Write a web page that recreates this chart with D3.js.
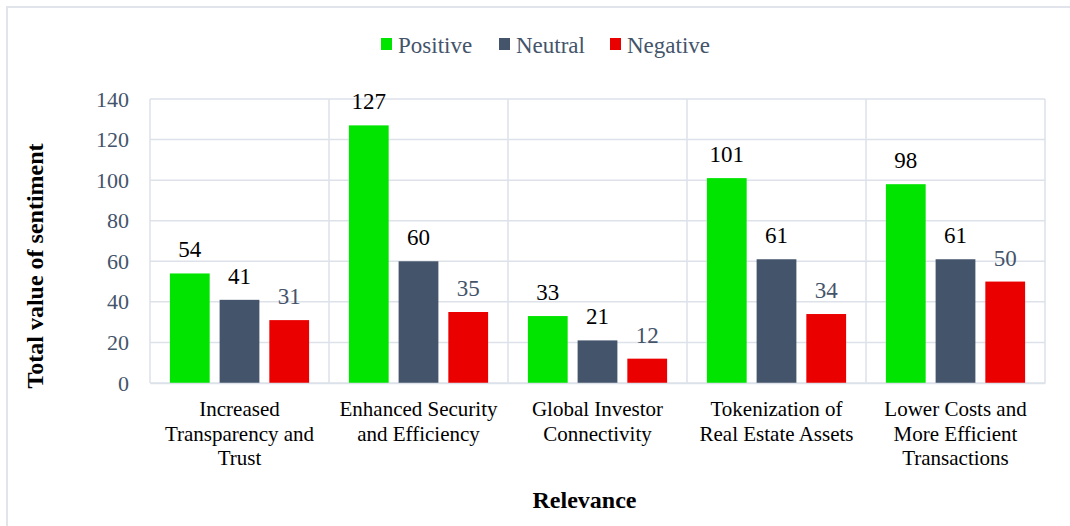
<!DOCTYPE html>
<html><head><meta charset="utf-8">
<script src="https://cdn.jsdelivr.net/npm/d3@7"></script>
<style>body{margin:0;background:#fff}svg{display:block}svg text{font-family:"Liberation Serif","Times New Roman","DejaVu Serif",serif}</style>
</head><body>
<svg id="c" width="1070" height="526"></svg>
<script>
const categories = [
  ["Increased","Transparency and","Trust"],
  ["Enhanced Security","and Efficiency"],
  ["Global Investor","Connectivity"],
  ["Tokenization of","Real Estate Assets"],
  ["Lower Costs and","More Efficient","Transactions"]
];
const seriesNames = ["Positive","Neutral","Negative"];
const positive = [54,127,33,101,98];
const neutral = [41,60,21,61,61];
const negative = [31,35,12,34,50];
const yTicks = [0,20,40,60,80,100,120,140];
const colors = ["#00E400","#44546A","#EB0000"];
const labelColors = ["#000000","#000000","#44546A"];

(function(){
const series = [positive, neutral, negative];
const svg = d3.select("#c");
svg.append("rect").attr("x",7).attr("y",7).attr("width",1080).attr("height",540)
  .attr("fill","none").attr("stroke","#E1E5EB").attr("stroke-width",2);

const pLeft=150, pRight=1045, pTop=99, pBottom=383;
const x0 = d3.scaleBand().domain(d3.range(categories.length)).range([pLeft,pRight]);
const x1 = d3.scaleBand().domain(d3.range(3)).range([0,x0.bandwidth()]).paddingInner(0.2).paddingOuter(0.4);
const y = d3.scaleLinear().domain([0,140]).range([pBottom,pTop]);

const g = svg.append("g");
g.selectAll("line.h").data(yTicks).join("line")
  .attr("x1",pLeft).attr("x2",pRight).attr("y1",d=>y(d)).attr("y2",d=>y(d))
  .attr("stroke","#DDE2EA").attr("stroke-width",1.5);
const vx = d3.range(categories.length+1).map(i=> i<categories.length ? x0(i) : pRight);
g.selectAll("line.v").data(vx).join("line")
  .attr("x1",d=>d).attr("x2",d=>d).attr("y1",pTop).attr("y2",pBottom)
  .attr("stroke","#DDE2EA").attr("stroke-width",1.5);

const yAxis = d3.axisLeft(y).tickValues(yTicks).tickSize(0).tickPadding(21);
const ya = svg.append("g").attr("transform",`translate(${pLeft},0)`).call(yAxis);
ya.attr("font-family",null);
ya.select(".domain").remove();
ya.selectAll("text").attr("font-size",22).attr("fill","#44546A");

series.forEach((vals,si)=>{
  svg.append("g").selectAll("rect").data(vals).join("rect")
    .attr("x",(d,i)=>x0(i)+x1(si)).attr("width",x1.bandwidth())
    .attr("y",d=>y(d)).attr("height",d=>y(0)-y(d)).attr("fill",colors[si]);
  svg.append("g").selectAll("text").data(vals).join("text")
    .attr("x",(d,i)=>x0(i)+x1(si)+x1.bandwidth()/2).attr("y",d=>y(d)-16)
    .attr("text-anchor","middle").attr("font-size",23)
    .attr("fill",labelColors[si]).text(d=>d);
});

const xAxis = d3.axisBottom(x0).tickSize(0).tickFormat("");
const xa = svg.append("g").attr("transform",`translate(0,${pBottom})`).call(xAxis);
xa.attr("font-family",null);
xa.select(".domain").attr("stroke","#DDE2EA").attr("stroke-width",1.5);
xa.selectAll(".tick").each(function(d){
  const t = d3.select(this).append("text").attr("text-anchor","middle")
    .attr("font-size",21).attr("fill","#000");
  categories[d].forEach((line,li)=>{
    t.append("tspan").attr("x",0).attr("y",33+li*24.5).text(line);
  });
});

svg.append("text").attr("x",(pLeft+pRight)/2-13).attr("y",508).attr("text-anchor","middle")
  .attr("font-size",24).attr("font-weight","bold").text("Relevance");
svg.append("text").attr("transform","translate(43,266) rotate(-90)").attr("text-anchor","middle")
  .attr("font-size",24).attr("font-weight","bold").text("Total value of sentiment");

const legendX = [381,499,610];
const lg = svg.append("g");
seriesNames.forEach((n,i)=>{
  lg.append("rect").attr("x",legendX[i]).attr("y",38).attr("width",11).attr("height",12).attr("fill",colors[i]);
  lg.append("text").attr("x",legendX[i]+17).attr("y",53)
    .attr("font-size",23).attr("fill","#44546A").text(n);
});
})();
</script>
</body></html>
